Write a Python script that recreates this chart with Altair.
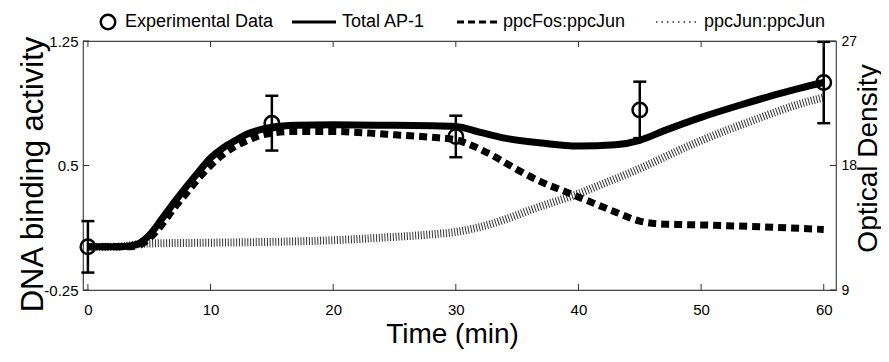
import altair as alt
import pandas as pd

# ---- data ----
total_t = [0, 2, 3, 4, 5, 6, 7, 8, 9, 10, 11, 12, 13, 14, 15, 17, 20, 25, 28, 30, 32, 34, 37, 40, 43, 45, 47, 50, 53, 56, 58, 60]
total_v = [0.01, 0.01, 0.012, 0.025, 0.08, 0.175, 0.275, 0.37, 0.46, 0.545, 0.605, 0.65, 0.69, 0.715, 0.73, 0.742, 0.745, 0.742, 0.74, 0.735, 0.70, 0.665, 0.635, 0.617, 0.625, 0.652, 0.71, 0.79, 0.86, 0.925, 0.965, 1.0]

fos_t = [0, 2, 3, 4, 5, 6, 7, 8, 9, 10, 11, 12, 13, 14, 15, 17, 20, 23, 25, 28, 30, 31, 33, 35, 37, 39, 41, 43, 45, 46, 48, 50, 55, 60]
fos_v = [0.01, 0.01, 0.01, 0.015, 0.06, 0.14, 0.24, 0.33, 0.42, 0.5, 0.565, 0.615, 0.65, 0.68, 0.695, 0.705, 0.705, 0.695, 0.685, 0.67, 0.655, 0.63, 0.56, 0.475, 0.40, 0.34, 0.28, 0.22, 0.165, 0.152, 0.145, 0.142, 0.13, 0.115]

jun_t = [0, 2, 3, 4, 5, 10, 15, 20, 25, 28, 30, 32, 34, 36, 38, 40, 42, 44, 46, 48, 50, 52, 54, 56, 58, 60]
jun_v = [0.01, 0.01, 0.015, 0.025, 0.03, 0.035, 0.04, 0.05, 0.07, 0.085, 0.10, 0.13, 0.175, 0.23, 0.28, 0.33, 0.39, 0.45, 0.515, 0.585, 0.65, 0.71, 0.765, 0.82, 0.87, 0.91]

exp_t = [0, 15, 30, 45, 60]
exp_v = [0.01, 0.755, 0.675, 0.835, 1.0]
exp_err = [0.155, 0.165, 0.125, 0.17, 0.245]

x_ticks = [0, 10, 20, 30, 40, 50, 60]
y_ticks = [-0.25, 0.5, 1.25]
od_ticks = [9, 18, 27]

legend_labels = ["Experimental Data", "Total AP-1", "ppcFos:ppcJun", "ppcJun:ppcJun"]

W, H = 753, 249
FONT = "Liberation Sans"

total_df = pd.DataFrame({"t": total_t, "v": total_v})
fos_df = pd.DataFrame({"t": fos_t, "v": fos_v})
jun_df = pd.DataFrame({"t": jun_t, "v": jun_v})
exp_df = pd.DataFrame({"t": exp_t, "v": exp_v, "err": exp_err})
exp_df["lo"] = exp_df["v"] - exp_df["err"]
exp_df["hi"] = exp_df["v"] + exp_df["err"]
xt_df = pd.DataFrame({"t": x_ticks})
yt_df = pd.DataFrame({"v": y_ticks})
od_df = pd.DataFrame({"od": od_ticks})
one = pd.DataFrame({"a": [0]})

x_scale = alt.Scale(domain=[-0.4, 61], nice=False, zero=False)
y_scale = alt.Scale(domain=[-0.25, 1.25], nice=False, zero=False)

x_axis = alt.Axis(values=x_ticks, ticks=False, tickSize=0, domain=False, grid=False,
                  labelFontSize=15, labelPadding=12, labelColor="black",
                  title="Time (min)", titleFontSize=28, titleFontWeight="normal",
                  titleX=369, titleY=52, titleBaseline="alphabetic", titleColor="black")
y_axis = alt.Axis(values=y_ticks, ticks=False, tickSize=0, domain=False, grid=False,
                  labelFontSize=15, labelPadding=5, labelColor="black",
                  labelExpr="'' + datum.value",
                  title="DNA binding activity", titleFontSize=31, titleFontWeight="normal",
                  titleAngle=270, titleX=-41, titleY=133, titleBaseline="alphabetic",
                  titleColor="black")

X = alt.X("t:Q", scale=x_scale, axis=x_axis)
Y = alt.Y("v:Q", scale=y_scale, axis=y_axis)

jun_line = alt.Chart(jun_df).mark_line(color="#333", strokeWidth=8, strokeDash=[1, 1.8],
                                       interpolate="monotone").encode(x=X, y=Y)
fos_line = alt.Chart(fos_df).mark_line(color="black", strokeWidth=7, strokeDash=[8, 5],
                                       interpolate="monotone").encode(x=X, y=Y)
total_line = alt.Chart(total_df).mark_line(color="black", strokeWidth=7,
                                           interpolate="monotone").encode(x=X, y=Y)

err_rule = alt.Chart(exp_df).mark_rule(color="black", strokeWidth=2.5).encode(
    x=X, y=alt.Y("lo:Q", scale=y_scale, axis=y_axis), y2="hi:Q")
cap_lo = alt.Chart(exp_df).mark_tick(color="black", orient="horizontal", size=13,
                                     thickness=2.5, opacity=1).encode(
    x=X, y=alt.Y("lo:Q", scale=y_scale, axis=y_axis))
cap_hi = alt.Chart(exp_df).mark_tick(color="black", orient="horizontal", size=13,
                                     thickness=2.5, opacity=1).encode(
    x=X, y=alt.Y("hi:Q", scale=y_scale, axis=y_axis))
pts = alt.Chart(exp_df).mark_point(shape="circle", size=210, filled=False, color="black",
                                   strokeWidth=2.5, opacity=1).encode(x=X, y=Y)

# inward tick marks
bot_ticks = alt.Chart(xt_df).mark_rule(color="#333", strokeWidth=1).encode(
    x=X, y=alt.value(H), y2=alt.value(H - 6))
top_ticks = alt.Chart(xt_df).mark_rule(color="#333", strokeWidth=1).encode(
    x=X, y=alt.value(0), y2=alt.value(6))
left_ticks = alt.Chart(yt_df).mark_rule(color="#333", strokeWidth=1).encode(
    y=Y, x=alt.value(0), x2=alt.value(6))

# legend drawn above the plot
LY = -19
leg = [
    alt.Chart(one).mark_point(shape="circle", size=210, filled=False, color="black",
                              strokeWidth=2.5, opacity=1).encode(x=alt.value(25), y=alt.value(LY)),
    alt.Chart(one).mark_text(align="left", baseline="middle", fontSize=18, font=FONT,
                             color="black").encode(x=alt.value(42), y=alt.value(LY),
                                                   text=alt.value(legend_labels[0])),
    alt.Chart(one).mark_rule(color="black", strokeWidth=3).encode(
        x=alt.value(209), x2=alt.value(253), y=alt.value(LY)),
    alt.Chart(one).mark_text(align="left", baseline="middle", fontSize=18, font=FONT,
                             color="black").encode(x=alt.value(259), y=alt.value(LY),
                                                   text=alt.value(legend_labels[1])),
    alt.Chart(one).mark_rule(color="black", strokeWidth=3, strokeDash=[7, 4]).encode(
        x=alt.value(374), x2=alt.value(414), y=alt.value(LY)),
    alt.Chart(one).mark_text(align="left", baseline="middle", fontSize=18, font=FONT,
                             color="black").encode(x=alt.value(420), y=alt.value(LY),
                                                   text=alt.value(legend_labels[2])),
    alt.Chart(one).mark_rule(color="#333", strokeWidth=1.5, strokeDash=[1.5, 4]).encode(
        x=alt.value(573), x2=alt.value(615), y=alt.value(LY)),
    alt.Chart(one).mark_text(align="left", baseline="middle", fontSize=18, font=FONT,
                             color="black").encode(x=alt.value(621), y=alt.value(LY),
                                                   text=alt.value(legend_labels[3])),
]

inner = alt.layer(jun_line, fos_line, total_line, err_rule, cap_lo, cap_hi, pts,
                  bot_ticks, top_ticks, left_ticks, *leg)

right = alt.Chart(od_df).mark_rule(color="#333", strokeWidth=1).encode(
    y=alt.Y("od:Q", scale=alt.Scale(domain=[9, 27], nice=False, zero=False),
            axis=alt.Axis(orient="right", values=od_ticks, ticks=False, tickSize=0,
                          domain=False, grid=False, labelFontSize=14, labelPadding=5,
                          labelColor="black",
                          title="Optical Density", titleFontSize=28, titleFontWeight="normal",
                          titleAngle=270, titleX=40, titleY=117, titleBaseline="alphabetic",
                          titleColor="black")),
    x=alt.value(W), x2=alt.value(W - 6))

chart = alt.layer(inner, right).resolve_scale(y="independent").properties(
    width=W, height=H,
    padding={"left": 75, "top": 33, "right": 45, "bottom": 60},
    autosize=alt.AutoSizeParams(type="none"),
).configure(font=FONT).configure_view(stroke="#444", strokeWidth=1.2).configure_axis(
    labelFont=FONT, titleFont=FONT)

chart.save("out.html", embed_options={"renderer": "svg", "actions": False})
